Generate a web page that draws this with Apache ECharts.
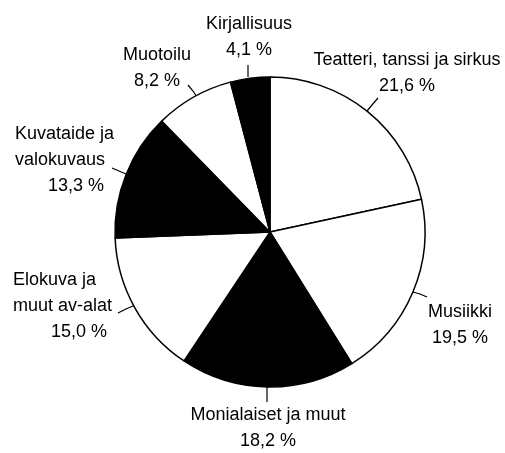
<!DOCTYPE html>
<html>
<head>
<meta charset="utf-8">
<script src="https://cdn.jsdelivr.net/npm/echarts@6/dist/echarts.min.js"></script>
<style>
html,body{margin:0;padding:0;background:#fff;}
#chart{width:505px;height:453px;}
</style>
</head>
<body>
<div id="chart"></div>
<script>
// Data
const categories = ['Teatteri, tanssi ja sirkus', 'Musiikki', 'Monialaiset ja muut', 'Elokuva ja\nmuut av-alat', 'Kuvataide ja\nvalokuvaus', 'Muotoilu', 'Kirjallisuus'];
const values = [21.6, 19.5, 18.2, 15.0, 13.3, 8.2, 4.1];

// Styles
const fills = ['#ffffff', '#ffffff', '#000000', '#ffffff', '#000000', '#ffffff', '#000000'];
const labelPos = [
  {x: 407, y: 47, align: 'center', pct: 'c', line: [[367,111],[372,105],[378,98]]},
  {x: 460, y: 299, align: 'center', pct: 'c', line: [[413,292],[420,294],[427,297]]},
  {x: 268, y: 402, align: 'center', pct: 'c', line: [[267,387],[267,394],[267,402]]},
  {x: 13, y: 267, align: 'left', pct: 'r5', line: [[133,306],[126,309],[118,313]]},
  {x: 15, y: 121, align: 'left', pct: 'r10', line: [[126,174],[119,171],[112,168]]},
  {x: 157, y: 42, align: 'center', pct: 'c', line: [[197,97],[193,91],[188,85]]},
  {x: 249, y: 11, align: 'center', pct: 'c', line: [[248,77],[248,71],[248,65]]}
];

const fmtPct = v => v.toFixed(1).replace('.', ',') + ' %';
const FONT = '"Liberation Sans", Arial, sans-serif';

const chart = echarts.init(document.getElementById('chart'), null, {renderer: 'canvas'});
chart.setOption({
  backgroundColor: '#ffffff',
  animation: false,
  series: [{
    type: 'pie',
    center: [270, 232],
    radius: 155,
    startAngle: 90,
    clockwise: true,
    avoidLabelOverlap: false,
    data: categories.map((name, i) => ({
      name: name,
      value: values[i],
      itemStyle: {color: fills[i]}
    })),
    itemStyle: {borderColor: '#000', borderWidth: 1.5},
    emphasis: {disabled: true},
    label: {
      show: true,
      position: 'outside',
      formatter: function (p) {
        const lp = labelPos[p.dataIndex];
        const lines = p.name.split('\n');
        const a = lp.align === 'left' ? 'l' : 'c';
        let s = lines.map(l => '{' + a + '|' + l + '}').join('\n');
        s += '\n{' + lp.pct + '|' + fmtPct(p.value) + '}';
        return s;
      },
      rich: {
        c: {fontSize: 18, lineHeight: 26, color: '#000', fontFamily: FONT, align: 'center'},
        l: {fontSize: 18, lineHeight: 26, color: '#000', fontFamily: FONT, align: 'left'},
        r5: {fontSize: 18, lineHeight: 26, color: '#000', fontFamily: FONT, align: 'right', padding: [0, 5, 0, 0]},
        r10: {fontSize: 18, lineHeight: 26, color: '#000', fontFamily: FONT, align: 'right', padding: [0, 10, 0, 0]}
      }
    },
    labelLine: {
      show: true,
      smooth: false,
      lineStyle: {color: '#000', width: 1.2}
    },
    labelLayout: function (params) {
      const lp = labelPos[params.dataIndex];
      return {
        x: lp.x,
        y: lp.y,
        align: lp.align,
        verticalAlign: 'top',
        labelLinePoints: lp.line
      };
    }
  }]
});
</script>
</body>
</html>
